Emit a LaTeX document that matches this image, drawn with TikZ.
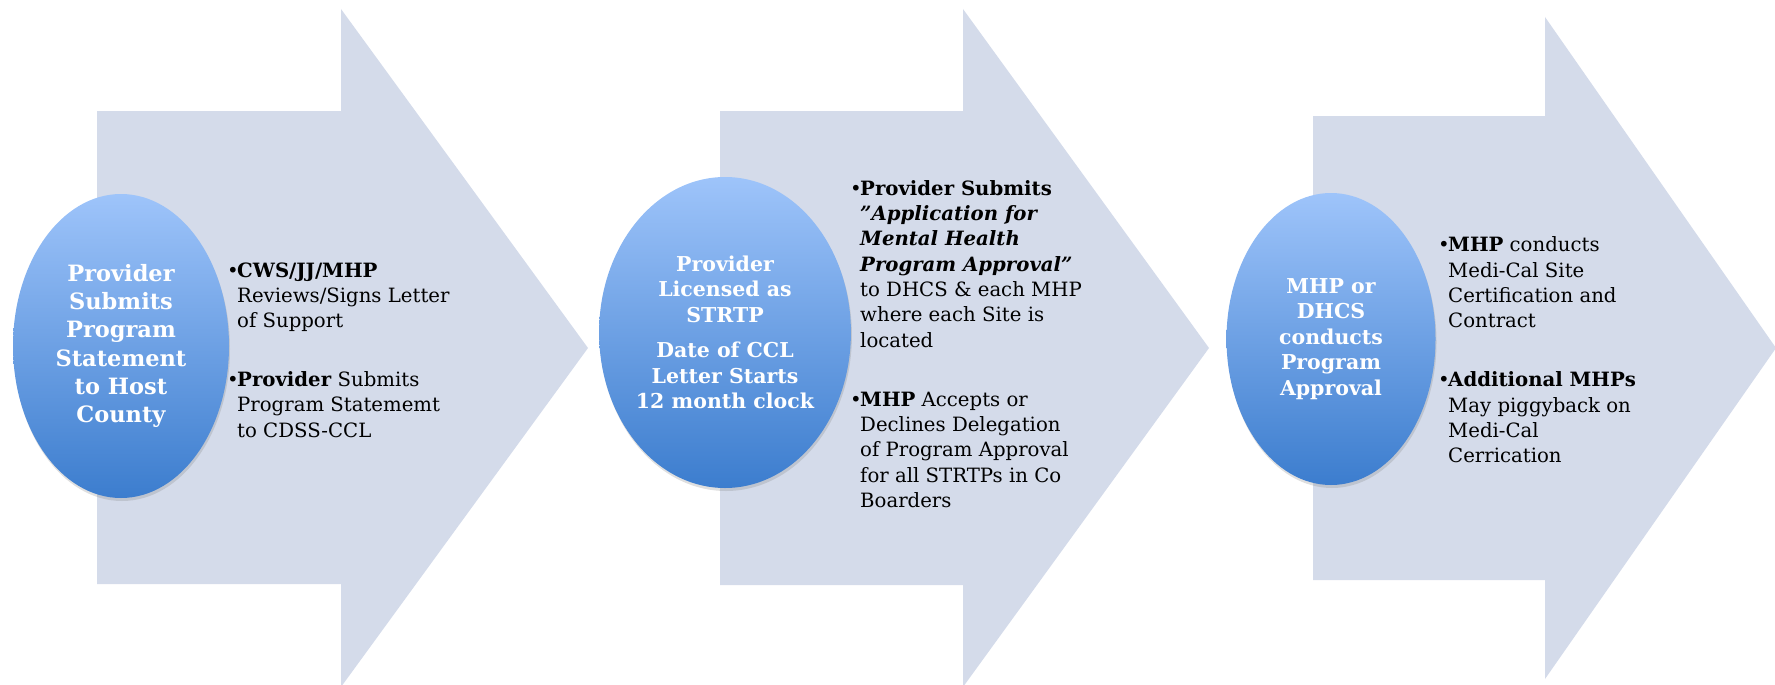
\documentclass[tikz,border=0pt]{standalone}
\usepackage{fontspec}
\setmainfont{DejaVu Serif}
\usetikzlibrary{shapes.geometric,shadows}
\definecolor{arrowgray}{RGB}{212,219,234}
\definecolor{bubbletop}{RGB}{158,196,250}
\definecolor{bubblebot}{RGB}{60,125,206}
\newcommand\bul{\makebox[10pt][l]{\textbullet}}
\newcommand\ind{\hspace*{10pt}}
\newcommand\gap{33.7pt}
\newcommand\qt{\symbol{34}}

\begin{document}
\begin{tikzpicture}[x=1pt,y=-1pt,
  chevron/.style={fill=arrowgray},
  bubble/.style={ellipse, inner sep=0pt, top color=bubbletop, bottom color=bubblebot,
    text=white, align=center, font=\bfseries\fontsize{20.5}{25.5}\selectfont,
    drop shadow={opacity=0.25, shadow xshift=1pt, shadow yshift=-3pt}},
  notes/.style={anchor=west, align=left, inner sep=0pt, font=\fontsize{19.7}{25.3}\selectfont}]
\useasboundingbox (0,0) rectangle (1775,685);

% big arrows behind everything
\fill[chevron] (97,111) -- (341,111) -- (341,9) -- (588,348) -- (341,687) -- (341,584) -- (97,584) -- cycle;
\fill[chevron] (720,111) -- (963,111) -- (963,9) -- (1209,348) -- (963,687) -- (963,585) -- (720,585) -- cycle;
\fill[chevron] (1313,116) -- (1545,116) -- (1545,17) -- (1776,348) -- (1545,679) -- (1545,580) -- (1313,580) -- cycle;

% the three steps
\node[bubble, minimum width=216pt, minimum height=304pt,
  font=\bfseries\fontsize{22.5}{28.3}\selectfont] (prov) at (121,346)
  {Provider\\Submits\\Program\\Statement\\to Host\\County};
\node[bubble, minimum width=244pt, minimum height=311pt] (lic) at (725,332.5)
  {Provider\\Licensed as\\STRTP\\[10pt]Date of CCL\\Letter Starts\\12 month clock};
\node[bubble, minimum width=209pt, minimum height=292pt] (appr) at (1331,339)
  {MHP or\\DHCS\\conducts\\Program\\Approval};

% bullet notes
\node[notes] (n1) at (227,350)
  {\bul\textbf{CWS/JJ/MHP}\\
   \ind Reviews/Signs Letter\\
   \ind of Support\\[\gap]
   \bul\textbf{Provider} Submits\\
   \ind Program Statememt\\
   \ind to CDSS-CCL};
\node[notes] (n2) at (850,344)
  {\bul\textbf{Provider Submits}\\
   \ind\textbf{\itshape \qt Application for}\\
   \ind\textbf{\itshape Mental Health}\\
   \ind\textbf{\itshape Program Approval\qt}\\
   \ind to DHCS \& each MHP\\
   \ind where each Site is\\
   \ind located\\[\gap]
   \bul\textbf{MHP} Accepts or\\
   \ind Declines Delegation\\
   \ind of Program Approval\\
   \ind for all STRTPs in Co\\
   \ind Boarders};
\node[notes] (n3) at (1438,350)
  {\bul\textbf{MHP} conducts\\
   \ind Medi-Cal Site\\
   \ind Certification and\\
   \ind Contract\\[\gap]
   \bul\textbf{Additional MHPs}\\
   \ind May piggyback on\\
   \ind Medi-Cal\\
   \ind Cerrication};
\end{tikzpicture}
\end{document}
